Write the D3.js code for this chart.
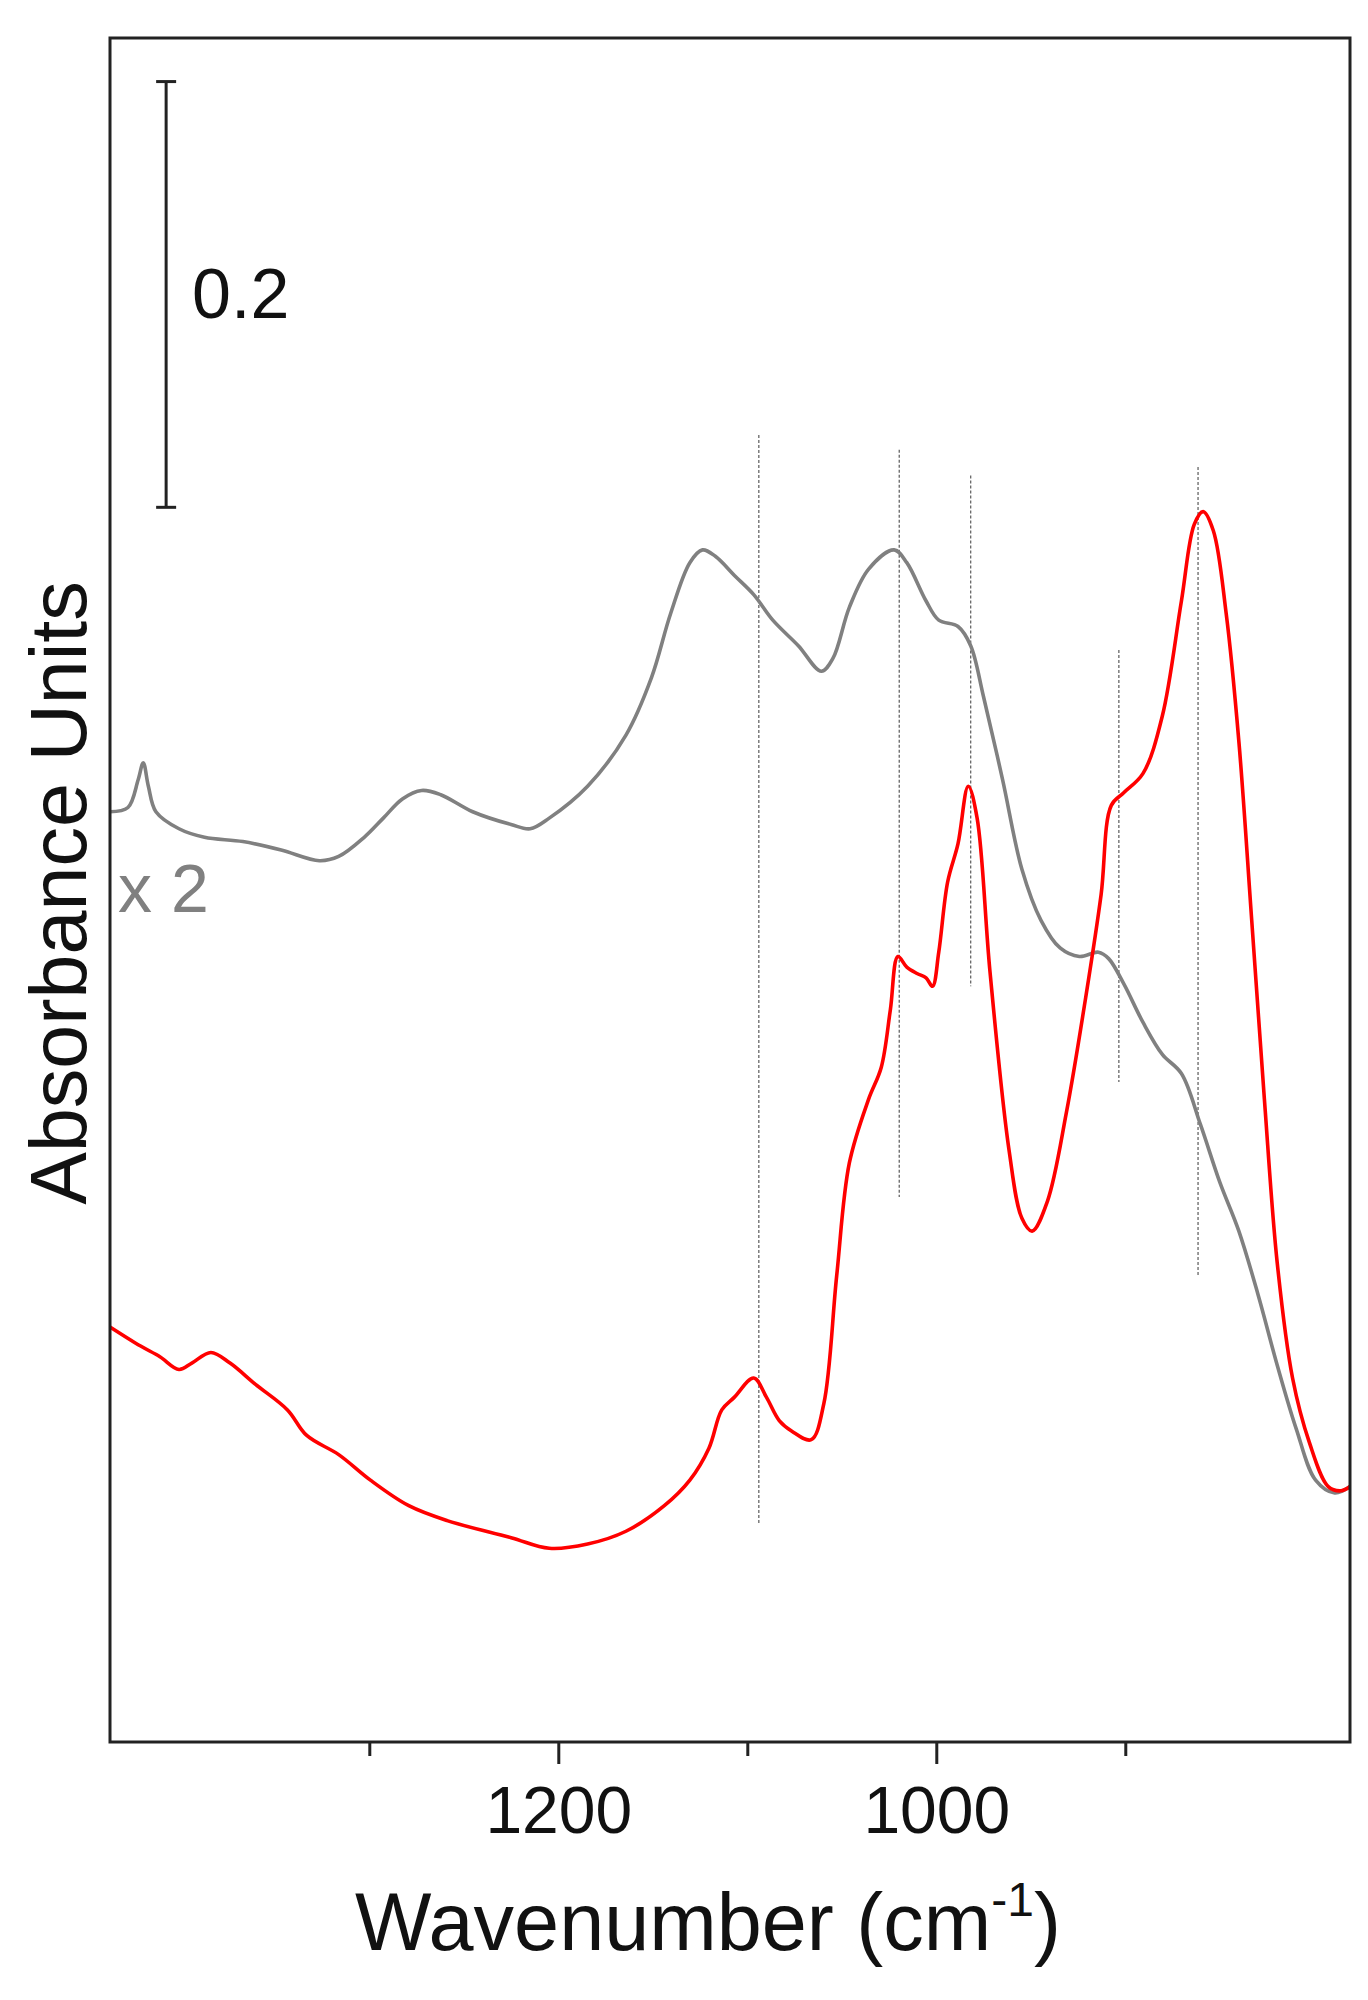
<!DOCTYPE html>
<html><head><meta charset="utf-8">
<script src="https://cdn.jsdelivr.net/npm/d3@7"></script>
<style>body{margin:0;background:#fff}text{font-family:"Liberation Sans",Arial,sans-serif}</style>
</head><body>
<script>
// wavenumber (cm-1) and absorbance
var grayX = [1437.2,1427.7,1422.3,1419.6,1416.9,1412.9,1400.7,1387.2,1366.9,1346.6,1326.4,1316.2,1302.7,1292.6,1282.5,1272.3,1262.2,1245.3,1225.0,1214.9,1204.8,1184.5,1164.2,1150.7,1140.6,1130.4,1123.7,1116.9,1106.8,1096.6,1086.5,1073.0,1060.8,1054.7,1046.0,1035.8,1022.3,1015.6,1005.4,998.7,988.5,981.8,975.0,964.9,954.7,944.6,934.5,924.3,914.2,908.8,900.7,890.6,880.4,870.3,860.2,850.0,839.9,829.7,819.6,809.5,799.3,789.2,781.1];
var grayY = [0.437,0.439,0.452,0.460,0.449,0.437,0.429,0.425,0.423,0.419,0.414,0.416,0.425,0.434,0.443,0.447,0.445,0.437,0.431,0.429,0.434,0.449,0.473,0.500,0.530,0.554,0.560,0.557,0.548,0.539,0.527,0.515,0.503,0.509,0.533,0.551,0.560,0.554,0.536,0.527,0.524,0.515,0.491,0.452,0.410,0.386,0.373,0.369,0.371,0.368,0.356,0.338,0.323,0.314,0.290,0.263,0.240,0.210,0.177,0.147,0.123,0.117,0.120];
var redX = [1437.2,1421.0,1410.8,1400.7,1393.9,1383.8,1373.7,1360.2,1343.3,1333.1,1316.2,1299.4,1279.1,1258.8,1225.0,1204.8,1184.5,1164.2,1143.9,1130.4,1120.3,1113.5,1106.8,1096.6,1089.9,1083.1,1076.4,1066.2,1059.5,1052.7,1046.0,1035.8,1029.1,1024.3,1020.3,1015.6,1010.2,1005.4,1002.0,998.7,994.0,988.5,983.1,978.4,971.6,961.5,954.7,949.3,941.2,931.1,920.9,912.8,907.4,900.7,890.6,880.4,870.3,863.5,858.8,853.4,846.6,839.9,833.1,826.4,819.6,811.5,802.7,792.6,785.8,781.1];
var redY = [0.195,0.186,0.181,0.175,0.178,0.183,0.178,0.168,0.156,0.144,0.135,0.123,0.111,0.104,0.096,0.091,0.093,0.099,0.111,0.123,0.138,0.156,0.162,0.171,0.162,0.151,0.146,0.142,0.159,0.219,0.272,0.302,0.317,0.344,0.369,0.364,0.361,0.359,0.355,0.371,0.404,0.422,0.449,0.434,0.362,0.278,0.246,0.240,0.254,0.296,0.350,0.398,0.440,0.446,0.455,0.482,0.536,0.572,0.578,0.569,0.530,0.470,0.386,0.302,0.225,0.171,0.141,0.120,0.118,0.120];
var peakX = [1093.9,1019.6,981.8,903.4,861.5];
var peakTop = [0.614,0.607,0.595,0.513,0.599];
var peakBottom = [0.102,0.256,0.355,0.310,0.219];
var majorTicks = [1200,1000];
var minorTicks = [1300,1100,900];

var W = 1368, H = 2000;
var m = {left:110, right:1350, top:38, bottom:1742};
var svg = d3.select("body").append("svg").attr("width",W).attr("height",H);
var x = d3.scaleLinear().domain([1437.2,781.1]).range([m.left,m.right]);
var y = d3.scaleLinear().domain([0,0.8]).range([m.bottom,m.top+1]);

var line = d3.line().x(d => x(d[0])).y(d => y(d[1])).curve(d3.curveCatmullRom);

svg.selectAll(".peak").data(peakX).join("line")
  .attr("x1",d=>x(d)).attr("x2",d=>x(d))
  .attr("y1",(d,i)=>y(peakTop[i])).attr("y2",(d,i)=>y(peakBottom[i]))
  .attr("stroke","#666").attr("stroke-width",1.3).attr("stroke-dasharray","3,2");

svg.append("path").datum(d3.zip(grayX,grayY)).attr("d",line)
  .attr("fill","none").attr("stroke","#808080").attr("stroke-width",3.6);
svg.append("path").datum(d3.zip(redX,redY)).attr("d",line)
  .attr("fill","none").attr("stroke","#ff0000").attr("stroke-width",3.6);

svg.append("rect").attr("x",m.left).attr("y",m.top)
  .attr("width",m.right-m.left).attr("height",m.bottom-m.top)
  .attr("fill","none").attr("stroke","#222").attr("stroke-width",3);

svg.append("g").attr("transform","translate(0,"+m.bottom+")")
  .call(d3.axisBottom(x).tickValues(majorTicks).tickSize(22).tickFormat(d3.format("d")))
  .call(g=>{g.select(".domain").remove();
    g.selectAll("line").attr("stroke","#222").attr("stroke-width",3);
    g.selectAll("text").attr("font-size",66).attr("fill","#111").attr("dy","1.0em");});
svg.append("g").attr("transform","translate(0,"+m.bottom+")")
  .call(d3.axisBottom(x).tickValues(minorTicks).tickSize(14).tickFormat(""))
  .call(g=>{g.select(".domain").remove();g.selectAll("line").attr("stroke","#222").attr("stroke-width",3);});

// scale bar 0.2
var sbx = x(1407.5);
svg.append("line").attr("x1",sbx).attr("x2",sbx).attr("y1",y(0.78)).attr("y2",y(0.58)).attr("stroke","#222").attr("stroke-width",3);
[0.78,0.58].forEach(v=>svg.append("line").attr("x1",sbx-10).attr("x2",sbx+10).attr("y1",y(v)).attr("y2",y(v)).attr("stroke","#222").attr("stroke-width",3));
svg.append("text").attr("x",192).attr("y",318).attr("font-size",70).attr("fill","#111").text("0.2");
svg.append("text").attr("x",118).attr("y",912).attr("font-size",68).attr("fill","#808080").text("x 2");

svg.append("text").attr("transform","translate(86,893) rotate(-90)").attr("text-anchor","middle")
  .attr("font-size",79).attr("fill","#111").text("Absorbance Units");
var t = svg.append("text").attr("x",708).attr("y",1950).attr("text-anchor","middle").attr("font-size",81).attr("fill","#111");
t.append("tspan").text("Wavenumber (cm");
t.append("tspan").attr("font-size",48).attr("dy",-34).text("-1");
t.append("tspan").attr("dy",34).text(")");
</script>
</body></html>
